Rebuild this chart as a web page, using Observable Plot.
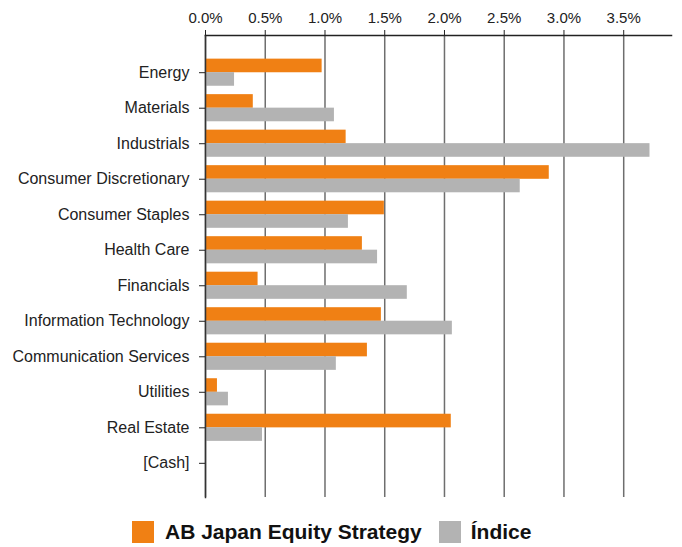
<!DOCTYPE html>
<html>
<head>
<meta charset="utf-8">
<script src="https://cdn.jsdelivr.net/npm/d3@7"></script>
<script src="https://cdn.jsdelivr.net/npm/@observablehq/plot@0.6"></script>
<style>
  html, body { margin: 0; padding: 0; background: #fff; }
  #chart svg { display: block; }
  .legend { display: flex; align-items: center; height: 22px; margin-top: 21px; padding-left: 132px;
            font-family: "Liberation Sans", Arial, sans-serif; font-weight: bold; font-size: 21px; color: #111; }
  .sw { width: 22px; height: 22px; display: inline-block; }
</style>
</head>
<body>
<div id="chart"></div>
<script>
const sectors = ["Energy","Materials","Industrials","Consumer Discretionary","Consumer Staples","Health Care","Financials","Information Technology","Communication Services","Utilities","Real Estate","[Cash]"];
const fundValues  = [0.976, 0.40, 1.177, 2.877, 1.497, 1.313, 0.44, 1.472, 1.355, 0.10, 2.057, 0.005];
const indexValues = [0.243, 1.079, 3.72, 2.634, 1.196, 1.44, 1.689, 2.066, 1.095, 0.192, 0.477, 0.004];
const xTicks = [0, 0.5, 1.0, 1.5, 2.0, 2.5, 3.0, 3.5];
const seriesNames = ["AB Japan Equity Strategy", "Índice"];
const seriesColors = ["#F08014", "#B3B3B3"];

const fundData = sectors.map((s, i) => ({sector: s, value: fundValues[i]}));
const indexData = sectors.map((s, i) => ({sector: s, value: indexValues[i]}));

const chart = Plot.plot({
  width: 682, height: 500,
  marginLeft: 205, marginRight: 11, marginTop: 35, marginBottom: 3,
  style: {fontFamily: "'Liberation Sans', Arial, sans-serif", fontSize: "15px", color: "#222", background: "#fff"},
  x: {domain: [0, 3.9]},
  y: {domain: sectors, paddingInner: 0.236, paddingOuter: 0.623, align: 0.534, round: false},
  marks: [
    Plot.gridX(xTicks, {stroke: "#6e6e6e", strokeOpacity: 1, strokeWidth: 1.5}),
    Plot.barX(fundData, {x: "value", y: "sector", fill: seriesColors[0], insetBottom: 13.5}),
    Plot.barX(indexData, {x: "value", y: "sector", fill: seriesColors[1], insetTop: 13.5}),
    Plot.frame({anchor: "top", stroke: "#222", strokeWidth: 1.5}),
    Plot.frame({anchor: "left", stroke: "#333", strokeWidth: 1.5}),
    Plot.axisX(xTicks, {anchor: "top", tickFormat: d => d.toFixed(1) + "%", tickSize: 6, tickPadding: 7, fontSize: 15, label: null}),
    Plot.axisY({tickSize: 6, tickPadding: 10, fontSize: 16, label: null})
  ]
});
document.getElementById("chart").appendChild(chart);

const legend = document.createElement("div");
legend.className = "legend";
seriesNames.forEach((name, i) => {
  const sw = document.createElement("span");
  sw.className = "sw";
  sw.style.background = seriesColors[i];
  sw.style.marginRight = i === 0 ? "11px" : "10px";
  const t = document.createElement("span");
  t.textContent = name;
  if (i === 0) t.style.marginRight = "17px";
  legend.appendChild(sw);
  legend.appendChild(t);
});
document.body.appendChild(legend);
</script>
</body>
</html>
